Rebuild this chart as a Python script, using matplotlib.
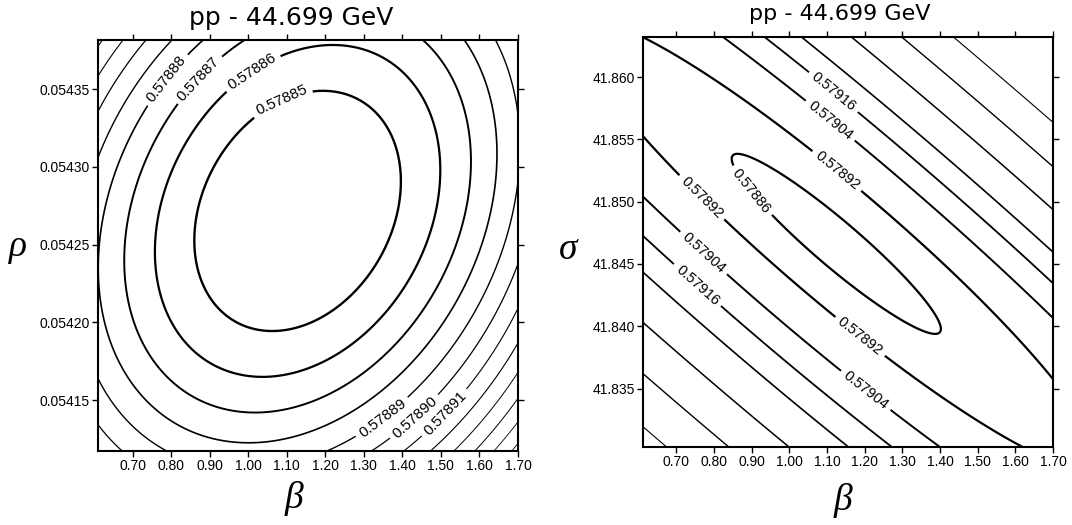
import numpy as np
import matplotlib.pyplot as plt
from matplotlib.ticker import FormatStrFormatter

plt.rcParams['font.family'] = ['Liberation Sans', 'DejaVu Sans']

title = 'pp - 44.699 GeV'

# left panel: fit quality in the (beta, rho) plane
beta_lim = (0.61, 1.70)
rho_lim = (0.0541172, 0.0543817)
rho_ticks = [0.05415, 0.05420, 0.05425, 0.05430, 0.05435]
rho_levels = [0.57885, 0.57886, 0.57887, 0.57888, 0.57889, 0.57890, 0.57891,
              0.57892, 0.57893, 0.57894, 0.57895, 0.57896, 0.57897, 0.57898]
rho_labelled = [0.57885, 0.57886, 0.57887, 0.57888, 0.57889, 0.57890, 0.57891]
rho_best = (1.128, 0.0542717)       # (beta, rho) at the bottom of the bowl
rho_zmin = 0.578839
rho_curv = (0.163, -0.0695, 0.49)   # a, b, c in 1e-5 per (0.1 beta, 0.00005 rho)^2
rho_label_at = [(1.088, 0.054342), (1.008, 0.054362), (0.865, 0.054358),
                (0.780, 0.054358), (1.347, 0.054139), (1.432, 0.054139),
                (1.5125, 0.054141)]

# right panel: fit quality in the (beta, sigma) plane
sig_lim = (41.83031, 41.86321)
sig_ticks = [41.835, 41.840, 41.845, 41.850, 41.855, 41.860]
sig_levels = [0.57886, 0.57892, 0.57904, 0.57916, 0.57930, 0.57954, 0.57984, 0.58021]
sig_labelled = [0.57886, 0.57892, 0.57904, 0.57916]
sig_best = (1.1247, 41.84661)
sig_zmin = 0.5788485
sig_curv = (1.384, 2.512, 5.110)    # a, b, c in 1e-5 per (0.1 beta, 0.005 sigma)^2
sig_perp = (0.7234, 1.400)          # direction across the valley
sig_skew = (0.5, 1.5)               # upper side steeper than the lower side
sig_label_at = [(1.1064, 41.85839), (1.1018, 41.85625), (1.120, 41.85223),
                (0.901, 41.85088), (0.768, 41.85035), (0.782, 41.84619),
                (0.7685, 41.84373), (1.184, 41.83903), (1.207, 41.83501)]

beta_ticks = np.round(np.arange(0.70, 1.701, 0.10), 2)


def surface(xlim, ylim, best, zmin, curv, ystep, perp=None, skew=None):
    x = np.linspace(xlim[0], xlim[1], 500)
    y = np.linspace(ylim[0], ylim[1], 500)
    X, Y = np.meshgrid(x, y)
    p = (X - best[0]) / 0.1
    q = (Y - best[1]) / ystep
    a, b, c = curv
    Z = a * p**2 + 2 * b * p * q + c * q**2
    if perp is not None:
        d = perp[0] * p + perp[1] * q
        Z += skew[0] * np.sign(d) * np.clip(np.abs(d) - skew[1], 0, None)**2
    return X, Y, zmin + 1e-5 * Z


def frame(ax):
    for s in ax.spines.values():
        s.set_linewidth(1.5)
    ax.tick_params(direction='out', length=4, width=1, top=True, right=True,
                   labelsize=10, pad=2)
    ax.set_xticks(beta_ticks)
    ax.xaxis.set_major_formatter(FormatStrFormatter('%.2f'))


fig = plt.figure(figsize=(10.72, 5.25), dpi=100)
ax1 = fig.add_axes([98 / 1072, 1 - 451 / 525, 420 / 1072, 411 / 525])
ax2 = fig.add_axes([643 / 1072, 1 - 447 / 525, 410 / 1072, 410 / 525])

# left
X, Y, Z = surface(beta_lim, rho_lim, rho_best, rho_zmin, rho_curv, 0.00005)
lw1 = [1.7, 1.6, 1.4, 1.2, 1.0, 0.9, 0.8, 0.8, 0.7, 0.7, 0.6, 0.6, 0.6, 0.6]
cs1 = ax1.contour(X, Y, Z, levels=rho_levels, colors='black', linewidths=lw1)
ax1.clabel(cs1, levels=rho_labelled, manual=rho_label_at, fmt='%.5f',
           inline=True, fontsize=11, inline_spacing=5)
ax1.set_xlim(beta_lim)
ax1.set_ylim(rho_lim)
ax1.set_yticks(rho_ticks)
ax1.yaxis.set_major_formatter(FormatStrFormatter('%.5f'))
frame(ax1)
ax1.set_title(title, fontsize=18, family='DejaVu Sans', pad=11, x=0.46)

# right
X, Y, Z = surface(beta_lim, sig_lim, sig_best, sig_zmin, sig_curv, 0.005,
                  sig_perp, sig_skew)
lw2 = [1.6, 1.6, 1.4, 1.3, 1.2, 1.1, 1.0, 0.8]
cs2 = ax2.contour(X, Y, Z, levels=sig_levels, colors='black', linewidths=lw2)
ax2.clabel(cs2, levels=sig_labelled, manual=sig_label_at, fmt='%.5f',
           inline=True, fontsize=10.5, inline_spacing=5)
ax2.set_xlim(0.6116, 1.70)
ax2.set_ylim(sig_lim)
ax2.set_yticks(sig_ticks)
ax2.yaxis.set_major_formatter(FormatStrFormatter('%.3f'))
frame(ax2)
ax2.set_title(title, fontsize=16, family='DejaVu Sans', pad=12, x=0.48)

# axis symbols
sym = dict(family='Liberation Serif', style='italic', fontsize=27,
           ha='center', va='center')
fig.text(18 / 1072, 1 - 247 / 525, 'ρ', **sym)
fig.text(294 / 1072, 1 - 499 / 525, 'β', **sym)
fig.text(568 / 1072, 1 - 250 / 525, 'σ', **sym)
fig.text(843 / 1072, 1 - 501 / 525, 'β', **sym)

fig.savefig('out.png', dpi=100, facecolor='white')
